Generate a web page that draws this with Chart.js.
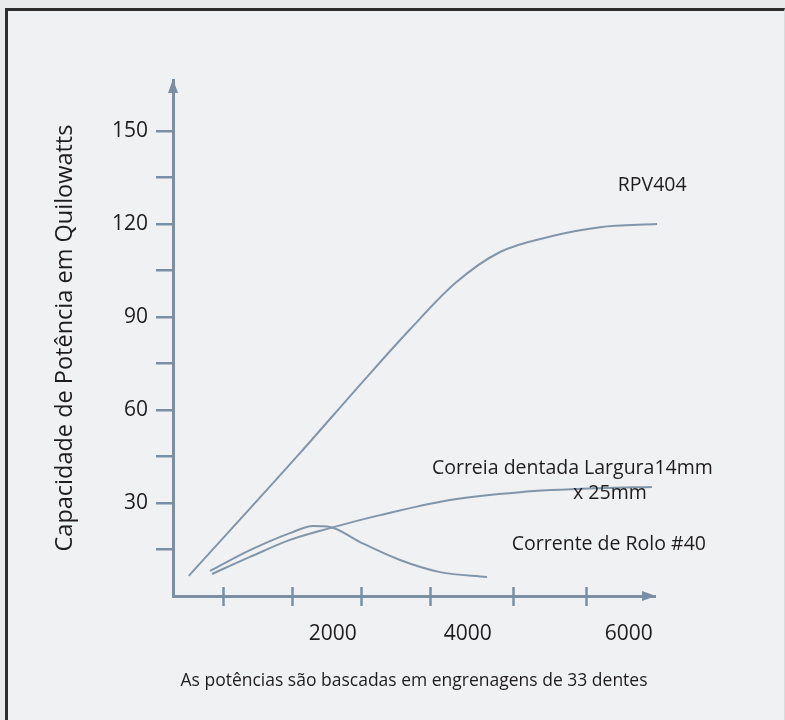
<!DOCTYPE html>
<html lang="pt">
<head>
<meta charset="UTF-8">
<title>Capacidade de Potência em Quilowatts</title>
<script src="https://cdn.jsdelivr.net/npm/chart.js"></script>
<style>
  html, body { margin: 0; padding: 0; background: #e9eaec; }
  #frame {
    position: absolute; left: 5px; top: 8px; width: 776px; height: 720px;
    background: #f0f1f3;
    border-left: 3px solid #2d2d2d; border-top: 3px solid #2d2d2d;
    border-right: 1px solid #dadbdd;
  }
  #wrap { position: absolute; left: 0; top: 0; width: 785px; height: 720px; }
</style>
</head>
<body>
<div id="frame"></div>
<div id="wrap"><canvas id="chart" width="785" height="720"></canvas></div>
<script>
// rotation (rpm) and power (kW)
const rpvX   = [230, 1840, 2790, 3440, 4100, 4750, 5480, 6200, 7030];
const rpvY   = [6.5, 46, 70, 86, 101, 111, 116, 119, 120];
const beltX  = [566, 1118, 1699, 2280, 3006, 4023, 5039, 6201, 6956];
const beltY  = [7.1, 12.6, 18.1, 21.9, 26.1, 31.0, 33.5, 34.8, 35.2];
const chainX = [537, 1118, 1699, 2033, 2280, 2716, 3297, 3877, 4560];
const chainY = [8.1, 14.8, 20.3, 22.6, 22.3, 17.4, 11.6, 7.7, 6.1];

const yTickValues = [15, 30, 45, 60, 75, 90, 105, 120, 135, 150];
const yTickLabels = ['', '30', '', '60', '', '90', '', '120', '', '150'];
const xTickValues = [726, 1727, 2729, 3730, 4934, 5994];
const xLabelValues = [2320, 4280, 6620];
const xTickLabels = ['2000', '4000', '6000'];

const seriesNames = ['RPV404', 'Correia dentada Largura14mm x 25mm', 'Corrente de Rolo #40'];
const notes = [
  { text: 'RPV404', x: 6460, y: 132.6 },
  { text: 'Correia dentada Largura14mm', x: 3760, y: 41.3 },
  { text: 'x 25mm', x: 5810, y: 33.2 },
  { text: 'Corrente de Rolo #40', x: 4920, y: 16.5 }
];

const lineColor = '#8296a9';
const axisColor = '#7a8fa3';
const textColor = '#1f1c1d';
const fontFamily = '"Open Sans", "Noto Sans", sans-serif';

const toPoints = (xs, ys) => xs.map((v, i) => ({ x: v, y: ys[i] }));

const decor = {
  id: 'decor',
  afterDraw(chart) {
    const { ctx, chartArea, scales: { x, y } } = chart;
    ctx.save();
    ctx.strokeStyle = axisColor;
    ctx.fillStyle = axisColor;
    ctx.lineWidth = 2.5;
    xTickValues.forEach(v => {
      const px = Math.round(x.getPixelForValue(v)) + 0.5;
      ctx.beginPath();
      ctx.moveTo(px, chartArea.bottom - 9);
      ctx.lineTo(px, chartArea.bottom + 10);
      ctx.stroke();
    });
    // arrow heads
    const lx = chartArea.left, ty = chartArea.top;
    ctx.beginPath();
    ctx.moveTo(lx, ty - 1);
    ctx.lineTo(lx - 5, ty + 13);
    ctx.lineTo(lx + 5, ty + 13);
    ctx.closePath();
    ctx.fill();
    const rx = chartArea.right, by = chartArea.bottom;
    ctx.beginPath();
    ctx.moveTo(rx + 1, by);
    ctx.lineTo(rx - 13, by - 5);
    ctx.lineTo(rx - 13, by + 5);
    ctx.closePath();
    ctx.fill();
    // curve names
    ctx.fillStyle = textColor;
    ctx.font = '19.5px ' + fontFamily;
    ctx.textAlign = 'left';
    ctx.textBaseline = 'middle';
    notes.forEach(n => ctx.fillText(n.text, x.getPixelForValue(n.x), y.getPixelForValue(n.y)));
    ctx.restore();
  }
};

const ctx = document.getElementById('chart').getContext('2d');
new Chart(ctx, {
  type: 'line',
  data: {
    datasets: [
      { label: seriesNames[0], data: toPoints(rpvX, rpvY) },
      { label: seriesNames[1], data: toPoints(beltX, beltY) },
      { label: seriesNames[2], data: toPoints(chainX, chainY) }
    ].map(d => Object.assign(d, {
      borderColor: lineColor, borderWidth: 2, pointRadius: 0,
      cubicInterpolationMode: 'monotone', fill: false, clip: false
    }))
  },
  options: {
    responsive: false,
    animation: false,
    layout: { padding: { left: 0, top: 80, right: 130, bottom: 0 } },
    plugins: { legend: { display: false }, tooltip: { enabled: false } },
    scales: {
      x: {
        type: 'linear', min: 0, max: 7000,
        afterFit: s => { s.height = 124; },
        afterBuildTicks: s => { s.ticks = xLabelValues.map(v => ({ value: v })); },
        grid: { display: false, drawTicks: false },
        border: { display: true, color: axisColor, width: 3 },
        ticks: {
          padding: 25, color: textColor, maxRotation: 0,
          font: { family: fontFamily, size: 21 },
          callback: (v) => xTickLabels[xLabelValues.indexOf(v)] || ''
        },
        title: {
          display: true,
          text: 'As potências são bascadas em engrenagens de 33 dentes',
          color: textColor,
          font: { family: fontFamily, size: 17.5 },
          padding: { top: 0, bottom: 28 }
        }
      },
      y: {
        type: 'linear', min: 0, max: 166.5,
        afterFit: s => { s.width = 173; },
        afterBuildTicks: s => { s.ticks = yTickValues.map(v => ({ value: v })); },
        grid: { drawOnChartArea: false, drawTicks: true, tickLength: 17, color: axisColor, lineWidth: 2.5 },
        border: { display: true, color: axisColor, width: 3 },
        ticks: {
          padding: 8, color: textColor,
          font: { family: fontFamily, size: 21 },
          callback: (v) => yTickLabels[yTickValues.indexOf(v)] || ''
        },
        title: {
          display: true,
          text: 'Capacidade de Potência em Quilowatts',
          color: textColor,
          font: { family: fontFamily, size: 23.5 },
          padding: { top: 51, bottom: 0 }
        }
      }
    }
  },
  plugins: [decor]
});
</script>
</body>
</html>
